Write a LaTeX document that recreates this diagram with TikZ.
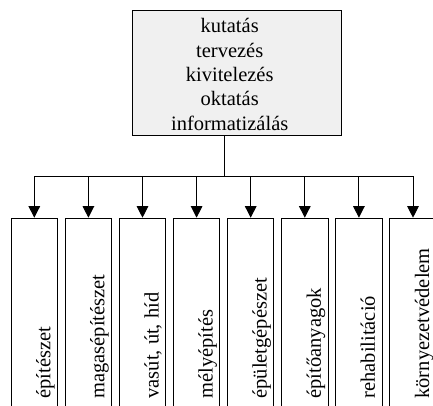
\documentclass[tikz,border=0pt]{standalone}
\usepackage{fontspec}
\setmainfont{Liberation Serif}
\usetikzlibrary{positioning,calc,arrows.meta}
\definecolor{hubgray}{RGB}{240,240,240}

\begin{document}
\begin{tikzpicture}[
    x=1pt, y=-1pt,
    hub/.style={rectangle, draw=black, line width=1pt, fill=hubgray, minimum width=208.7pt, minimum height=125pt, inner sep=0pt},
    hubtext/.style={align=center, font=\fontsize{20.5}{24.3}\selectfont, inner sep=0pt},
    field/.style={rectangle, draw=black, line width=1pt, minimum width=46.5pt, minimum height=200pt, anchor=north, inner sep=0pt},
    fieldtext/.style={rotate=90, anchor=base west, font=\fontsize{20.5}{24.3}\selectfont, inner sep=0pt},
    arrow/.style={-{Triangle[width=11.5pt,length=11.5pt]}, line width=1pt}
]
\useasboundingbox (0,0) rectangle (433,405);

% Top box: activities
\node[hub] (hub) at (236.7, 72.5) {};
\node[hubtext] (hubtxt) at ([xshift=-7pt, yshift=-2pt]hub.center) {kutatás\\tervezés\\kivitelezés\\oktatás\\informatizálás};

% Bus line under the top box
\coordinate (bus) at (224, 176);
\draw[line width=1pt] (hub.south -| bus) -- (bus);

% Fields, spaced 54.1pt apart
\foreach \name [count=\i] in {építészet, magasépítészet, {vasút, út, híd}, mélyépítés, épületgépészet, építőanyagok, rehabilitáció, környezetvédelem} {
    \node[field] (f\i) at ({34.3+54.1*(\i-1)}, 217.7) {};
    \node[fieldtext] (t\i) at ([xshift=16pt, yshift=20pt]f\i.south) {\name};
    \draw[arrow] (bus) -| (f\i.north);
}

\end{tikzpicture}
\end{document}
